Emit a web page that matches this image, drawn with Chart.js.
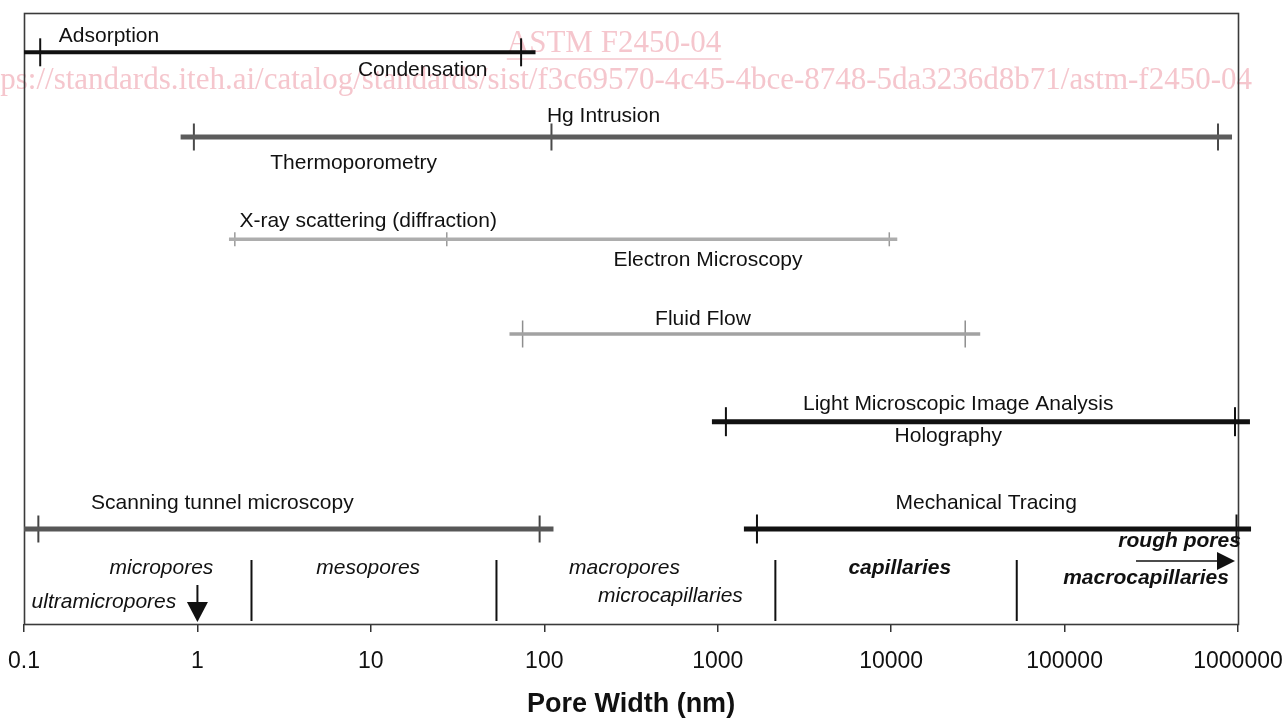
<!DOCTYPE html>
<html>
<head>
<meta charset="utf-8">
<script src="https://cdn.jsdelivr.net/npm/chart.js@4.4.0/dist/chart.umd.min.js"></script>
<style>
html,body{margin:0;padding:0;background:#fff;overflow:hidden}
#wrap{width:1286px;height:718px;position:relative}
</style>
</head>
<body>
<div id="wrap"><canvas id="c" width="1286" height="718"></canvas></div>
<script>
// ---------- DATA ----------
// measurement methods (pore-width ranges, nm)
const methodNames = [
  'Adsorption / Condensation',
  'Hg Intrusion / Thermoporometry',
  'X-ray scattering / Electron Microscopy',
  'Fluid Flow',
  'Light Microscopic Image Analysis / Holography',
  'Scanning tunnel microscopy',
  'Mechanical Tracing'
];
const rangeStart = [0.1, 0.80, 1.52, 63, 926, 0.1, 1416];
const rangeEnd   = [89, 923600, 10850, 32630, 1172000, 113, 1189000];
const rangeLimits = [
  [0.124, 73.5],
  [0.954, 110, 766800],
  [1.643, 27.4, 9756],
  [75, 26740],
  [1115, 961200],
  [0.121, 94],
  [1684, 980400]
];
// vertical row of each method (0 = top of plot, 611 = bottom)
const rowLevel = [39.3, 124, 226.3, 321, 408.7, 516, 516];

// method labels
const methodLabels = ['Adsorption', 'Condensation', 'Hg Intrusion', 'Thermoporometry',
  'X-ray scattering (diffraction)', 'Electron Microscopy', 'Fluid Flow',
  'Light Microscopic Image Analysis', 'Holography', 'Scanning tunnel microscopy', 'Mechanical Tracing'];
const methodLabelAt  = [0.309, 19.9, 219.6, 7.96, 9.65, 878.6, 822, 24370, 21350, 1.392, 35340];
const methodLabelRow = [23, 57, 103, 150, 208, 247, 306, 391, 423, 490, 490];

// pore classes
const classLabels = ['micropores', 'ultramicropores', 'mesopores', 'macropores', 'microcapillaries',
  'capillaries', 'rough pores', 'macrocapillaries'];
const classLabelAt  = [0.62, 0.289, 9.65, 290, 534, 11215, 460300, 295100];
const classLabelRow = [555, 589, 555, 555, 583, 555, 528, 565];
const classBold     = [false, false, false, false, false, true, true, true];
const classBoundaries = [2.05, 53, 2150, 53000];
const boundarySpan = [547, 608];

// arrows: ultramicropores (down at 1 nm), rough pores (to the right)
const arrowFromX = [1, 258200];
const arrowToX   = [1, 960800];
const arrowFromY = [572, 548];
const arrowToY   = [609, 548];

// axis
const tickValues = [0.1, 1, 10, 100, 1000, 10000, 100000, 1000000];
const tickLabels = ['0.1', '1', '10', '100', '1000', '10000', '100000', '1000000'];
const axisTitle = 'Pore Width (nm)';

// ---------- STYLES ----------
const lineStyles = [
  {color: '#111111', width: 4,   tick: 14,  tickW: 2,   tickColor: '#111111'},
  {color: '#5c5c5c', width: 5,   tick: 13.5,tickW: 2,   tickColor: '#4a4a4a'},
  {color: '#adadad', width: 3.5, tick: 7,   tickW: 1.5, tickColor: '#9a9a9a'},
  {color: '#a2a2a2', width: 3.5, tick: 13.5,tickW: 1.5, tickColor: '#8e8e8e'},
  {color: '#111111', width: 5,   tick: 14.5,tickW: 2,   tickColor: '#111111'},
  {color: '#575757', width: 5,   tick: 13.5,tickW: 2,   tickColor: '#444444'},
  {color: '#111111', width: 5,   tick: 14.5,tickW: 2,   tickColor: '#111111'}
];
const FONT = '"Liberation Sans", Arial, Helvetica, sans-serif';
const PLOT = {left: 24, top: 13, right: 1238, bottom: 624};

// ---------- DATASETS ----------
const datasets = [];
methodNames.forEach((name, i) => {
  const s = lineStyles[i];
  datasets.push({
    type: 'line', label: name,
    data: [{x: rangeStart[i], y: rowLevel[i]}, {x: rangeEnd[i], y: rowLevel[i]}],
    borderColor: s.color, borderWidth: s.width, pointRadius: 0, clip: false,
    borderCapStyle: 'butt'
  });
  datasets.push({
    type: 'scatter', label: name + ' limits',
    data: rangeLimits[i].map(v => ({x: v, y: rowLevel[i]})),
    pointStyle: 'line', rotation: 90, pointRadius: s.tick,
    pointBorderColor: s.tickColor, pointBorderWidth: s.tickW,
    pointBackgroundColor: s.tickColor, clip: false
  });
});
classBoundaries.forEach((b, i) => {
  datasets.push({
    type: 'line', label: 'boundary ' + (i + 1),
    data: [{x: b, y: boundarySpan[0]}, {x: b, y: boundarySpan[1]}],
    borderColor: '#111111', borderWidth: 2, pointRadius: 0, clip: false
  });
});

// ---------- PLUGIN: frame, watermark, labels, arrows ----------
const decorations = {
  id: 'decorations',
  beforeDatasetsDraw(chart) {
    const {ctx, chartArea: a} = chart;
    ctx.save();
    // watermark of the source document
    ctx.fillStyle = '#f5c6cd';
    ctx.strokeStyle = '#f5c6cd';
    ctx.font = '31px "Liberation Serif", "Times New Roman", serif';
    ctx.textBaseline = 'middle';
    ctx.textAlign = 'center';
    const wm = 'ASTM F2450-04';
    ctx.fillText(wm, 614, 44);
    const ww = ctx.measureText(wm).width;
    ctx.lineWidth = 1.3;
    ctx.beginPath(); ctx.moveTo(614 - ww / 2, 59); ctx.lineTo(614 + ww / 2, 59); ctx.stroke();
    ctx.textAlign = 'right';
    ctx.fillText('https://standards.iteh.ai/catalog/standards/sist/f3c69570-4c45-4bce-8748-5da3236d8b71/astm-f2450-04', 1252, 81);
    // plot frame
    ctx.strokeStyle = '#3a3a3a';
    ctx.lineWidth = 1.6;
    ctx.strokeRect(Math.round(a.left) + 0.5, Math.round(a.top) + 0.5,
      Math.round(a.right - a.left), Math.round(a.bottom - a.top));
    ctx.restore();
  },
  afterDatasetsDraw(chart) {
    const {ctx, scales: {x, y}} = chart;
    ctx.save();
    ctx.fillStyle = '#111';
    ctx.textAlign = 'center';
    ctx.textBaseline = 'middle';
    ctx.font = '21px ' + FONT;
    methodLabels.forEach((t, i) => {
      ctx.fillText(t, x.getPixelForValue(methodLabelAt[i]), y.getPixelForValue(methodLabelRow[i]));
    });
    classLabels.forEach((t, i) => {
      ctx.font = (classBold[i] ? 'italic bold 21px ' : 'italic 21px ') + FONT;
      ctx.fillText(t, x.getPixelForValue(classLabelAt[i]), y.getPixelForValue(classLabelRow[i]));
    });
    // arrows
    ctx.strokeStyle = '#111';
    ctx.fillStyle = '#111';
    arrowFromX.forEach((fx, i) => {
      const x0 = x.getPixelForValue(fx), y0 = y.getPixelForValue(arrowFromY[i]);
      const x1 = x.getPixelForValue(arrowToX[i]), y1 = y.getPixelForValue(arrowToY[i]);
      const ang = Math.atan2(y1 - y0, x1 - x0);
      const len = i === 0 ? 20 : 18, half = i === 0 ? 10.5 : 9;
      const bx = x1 - Math.cos(ang) * len, by = y1 - Math.sin(ang) * len;
      ctx.lineWidth = i === 0 ? 2 : 1.6;
      ctx.beginPath(); ctx.moveTo(x0, y0); ctx.lineTo(bx, by); ctx.stroke();
      ctx.beginPath();
      ctx.moveTo(x1, y1);
      ctx.lineTo(bx - Math.sin(ang) * half, by + Math.cos(ang) * half);
      ctx.lineTo(bx + Math.sin(ang) * half, by - Math.cos(ang) * half);
      ctx.closePath(); ctx.fill();
    });
    ctx.restore();
  }
};

const chart = new Chart(document.getElementById('c'), {
  data: {datasets},
  options: {
    responsive: false,
    animation: false,
    events: [],
    layout: {autoPadding: false, padding: {left: PLOT.left, right: 1286 - PLOT.right, top: PLOT.top, bottom: 0}},
    plugins: {legend: {display: false}, tooltip: {enabled: false}},
    scales: {
      x: {
        type: 'logarithmic',
        min: 0.1, max: 1000000,
        afterBuildTicks: (s) => { s.ticks = tickValues.map(v => ({value: v})); },
        ticks: {
          callback: (v, i) => tickLabels[i],
          color: '#111',
          font: {family: FONT, size: 23, lineHeight: 2.348},
          padding: 3,
          maxRotation: 0, autoSkip: false
        },
        grid: {display: true, drawOnChartArea: false, drawTicks: true, tickLength: 8, color: '#333', lineWidth: 1.5},
        border: {display: false},
        title: {
          display: true, text: axisTitle, color: '#111',
          font: {family: FONT, size: 27, weight: 'bold', lineHeight: 0.963},
          padding: 0
        }
      },
      y: {
        type: 'linear', min: 0, max: 611, reverse: true, display: false
      }
    }
  },
  plugins: [decorations]
});

// settle the plot area on the reference frame
for (let k = 0; k < 3; k++) {
  const a = chart.chartArea, p = chart.options.layout.padding;
  let changed = false;
  if (Math.abs(a.top - PLOT.top) > 0.4) { p.top += PLOT.top - a.top; changed = true; }
  if (Math.abs(a.left - PLOT.left) > 0.4) { p.left += PLOT.left - a.left; changed = true; }
  if (Math.abs(a.right - PLOT.right) > 0.4) { p.right += a.right - PLOT.right; changed = true; }
  if (Math.abs(a.bottom - PLOT.bottom) > 0.4) { p.bottom += a.bottom - PLOT.bottom; changed = true; }
  if (!changed) break;
  chart.update();
}
</script>
</body>
</html>
